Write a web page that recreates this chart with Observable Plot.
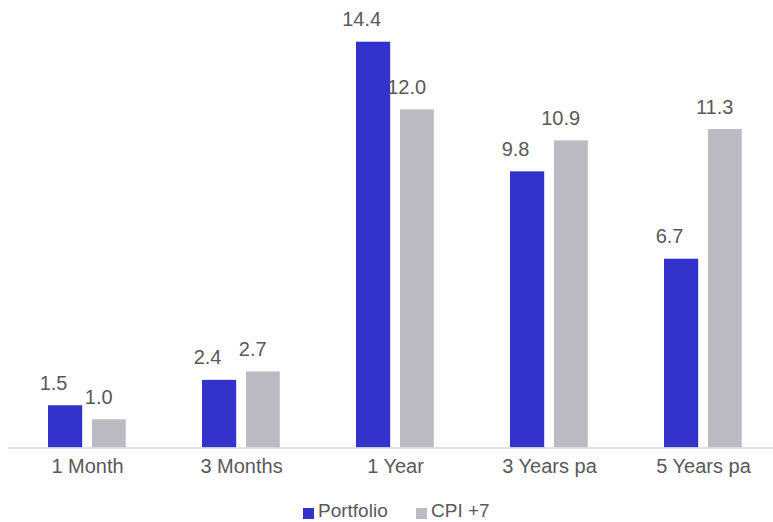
<!DOCTYPE html>
<html>
<head>
<meta charset="utf-8">
<script src="https://cdn.jsdelivr.net/npm/d3@7"></script>
<script src="https://cdn.jsdelivr.net/npm/@observablehq/plot@0.6"></script>
<style>
  body { margin: 0; background: #fff; font-family: "Liberation Sans", Arial, sans-serif; }
  #wrap { position: relative; width: 773px; height: 522px; overflow: hidden; }
  #legend { position: absolute; left: 0; top: 500px; width: 773px; height: 21px; }
  .item { position: absolute; top: 0; height: 21px; line-height: 21px; display: flex; align-items: center; font-size: 19px; color: #595959; }
  .sw { width: 11px; height: 11px; margin-right: 4px; margin-top: 6px; }
</style>
</head>
<body>
<div id="wrap">
  <div id="chart"></div>
  <div id="legend"></div>
</div>
<script>
const categories = ["1 Month", "3 Months", "1 Year", "3 Years pa", "5 Years pa"];
const seriesNames = ["Portfolio", "CPI +7"];
const portfolio = [1.5, 2.4, 14.4, 9.8, 6.7];
const cpi = [1.0, 2.7, 12.0, 10.9, 11.3];
const colors = ["#3333cc", "#bbbbc4"];

const pData = categories.map((c, i) => ({category: c, value: portfolio[i]}));
const cData = categories.map((c, i) => ({category: c, value: cpi[i]}));

const H = 492;
const chart = Plot.plot({
  width: 773,
  height: H,
  marginLeft: 8,
  marginRight: 0,
  marginTop: 0,
  marginBottom: H - 447.5,
  style: { fontFamily: "'Liberation Sans', Arial, sans-serif", background: "#fff" },
  x: { type: "band", domain: categories, range: [9, 781.5], padding: 0, axis: null },
  y: { domain: [0, 14.4], range: [447.5, 41.7], axis: null },
  marks: [
    Plot.barY(pData, { x: "category", y: "value", fill: colors[0], insetLeft: 38, insetRight: 81.8 }),
    Plot.barY(cData, { x: "category", y: "value", fill: colors[1], insetLeft: 82, insetRight: 38.2 }),
    Plot.text(pData, { x: "category", y: "value", text: d => d.value.toFixed(1), dx: -33.9, dy: -22.4, fontSize: 20, fill: "#595959" }),
    Plot.text(cData, { x: "category", y: "value", text: d => d.value.toFixed(1), dx: 11.2, dy: -22.4, fontSize: 20, fill: "#595959" }),
    Plot.ruleY([0], { stroke: "#d9d9d9", strokeWidth: 1.5 }),
    Plot.axisX({ tickSize: 0, tickPadding: 11, fontSize: 20, color: "#595959", label: null })
  ]
});
chart.style.display = "block";
document.getElementById("chart").appendChild(chart);

const legend = document.getElementById("legend");
const lefts = [303, 416];
seriesNames.forEach((name, i) => {
  const item = document.createElement("div");
  item.className = "item";
  item.style.left = lefts[i] + "px";
  const sw = document.createElement("div");
  sw.className = "sw";
  sw.style.background = colors[i];
  const t = document.createElement("span");
  t.textContent = name;
  item.appendChild(sw);
  item.appendChild(t);
  legend.appendChild(item);
});
</script>
</body>
</html>
